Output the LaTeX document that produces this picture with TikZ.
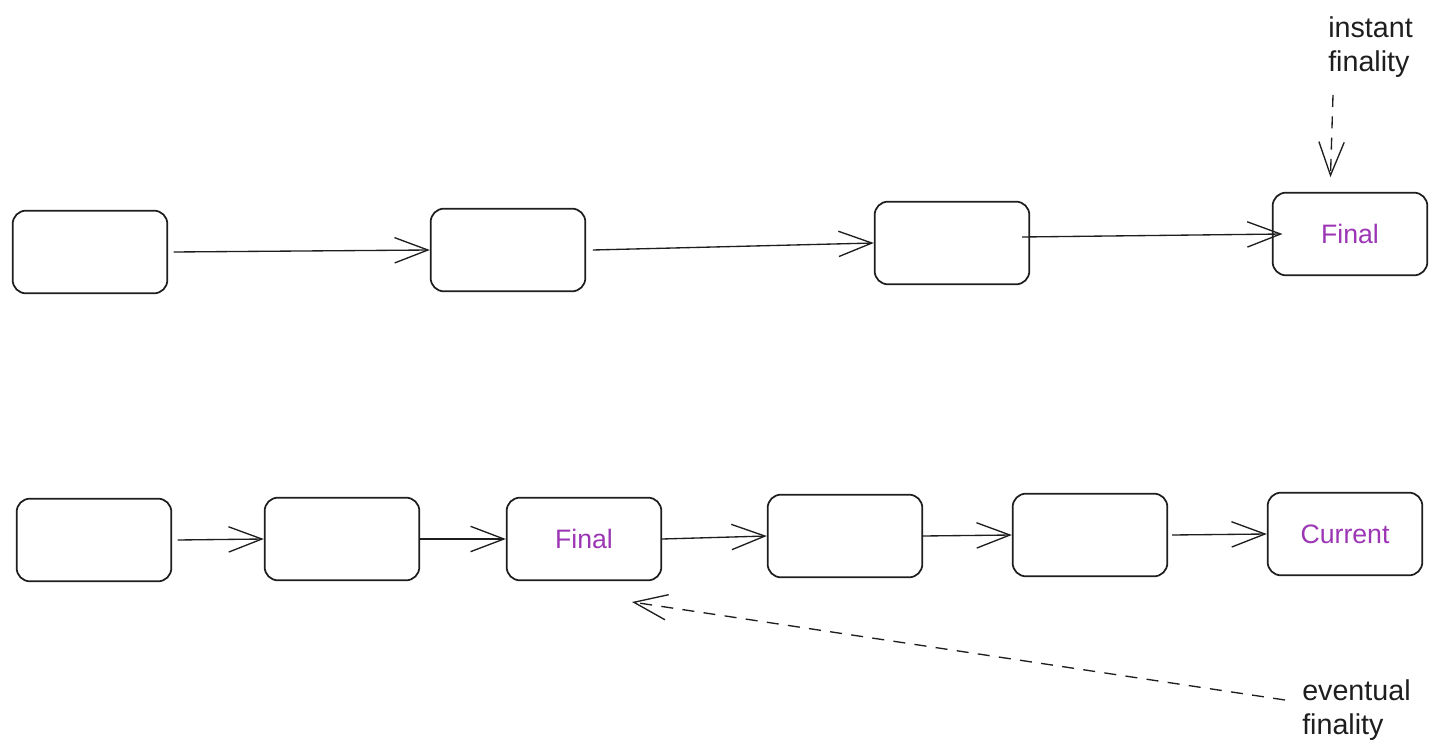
\documentclass[tikz,border=0pt]{standalone}
\usepackage{fontspec}
\setmainfont{Liberation Sans}
\usetikzlibrary{arrows.meta}
\definecolor{ink}{HTML}{1E1E1E}
\definecolor{myviolet}{HTML}{9C36B5}
\begin{document}
\begin{tikzpicture}[x=0.75pt,y=-0.75pt,
  blk/.style={draw=ink, line width=1.3pt, rounded corners=10pt, minimum width=116pt, minimum height=62pt, inner sep=0pt, font=\fontsize{20pt}{24pt}\selectfont, text=myviolet},
  link/.style={draw=ink, line width=1pt, -{Straight Barb[length=25pt,width=19pt,line width=1pt]}},
  dlink/.style={link, dash pattern=on 9pt off 7pt},
  lbl/.style={anchor=north west, inner sep=0pt, align=left, text=ink, font=\fontsize{21.5pt}{25.5pt}\selectfont}]
\useasboundingbox[fill=white] (0,0) rectangle (1440,756);

% top row
\node[blk] (A1) at (90,252) {};
\node[blk] (A2) at (508,250) {};
\node[blk] (A3) at (952,243) {};
\node[blk] (A4) at (1350,234) {Final};

% bottom row
\node[blk] (B1) at (94,540) {};
\node[blk] (B2) at (342,539) {};
\node[blk] (B3) at (584,539) {Final};
\node[blk] (B4) at (845,536) {};
\node[blk] (B5) at (1090,535) {};
\node[blk] (B6) at (1345,534) {Current};

% top connectors
\draw[link] ([xshift=4pt]A1.east) -- (A2.west);
\draw[link] ([xshift=5pt]A2.east) -- (A3.west);
\draw[link] ([xshift=-6pt,yshift=4.5pt]A3.east) -- ([xshift=8pt]A4.west);

% bottom connectors
\draw[link] ([xshift=4pt]B1.east) -- (B2.west);
\draw[link] (B2.east) -- (B3.west);
\draw[link] (B3.east) -- (B4.west);
\draw[link] (B4.east) -- (B5.west);
\draw[link] ([xshift=3pt]B5.east) -- (B6.west);

% labels
\node[lbl] (inst) at (1328,16) {instant\\finality};
\node[lbl] (even) at (1302,679) {eventual\\finality};

\coordinate (iS) at (1333,95);
\draw[dlink, shorten >=11pt] (iS) -- ([xshift=-15pt]A4.north);
\coordinate (eS) at (1285,700);
\coordinate (eT) at (632,602);
\draw[dlink] (eS) -- (eT);
\end{tikzpicture}
\end{document}
